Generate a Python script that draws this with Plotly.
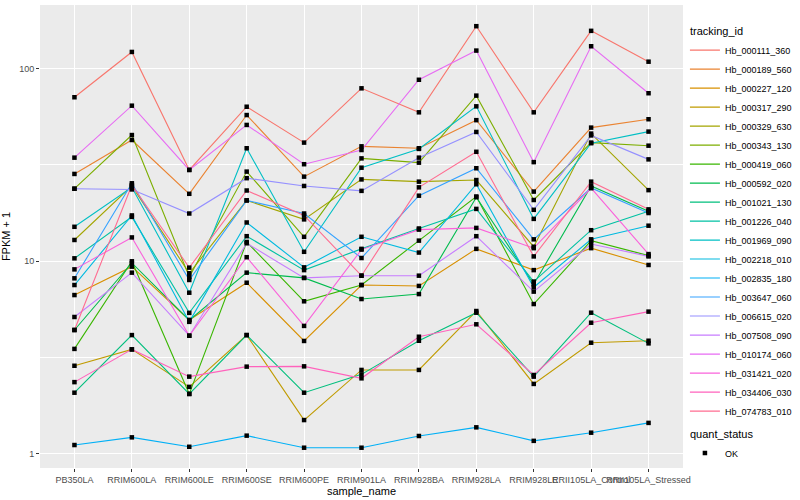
import plotly.graph_objects as go

samples = ["PB350LA", "RRIM600LA", "RRIM600LE", "RRIM600SE", "RRIM600PE", "RRIM901LA",
           "RRIM928BA", "RRIM928LA", "RRIM928LE", "RRII105LA_Control", "RRII105LA_Stressed"]

tracking_ids = ["Hb_000111_360", "Hb_000189_560", "Hb_000227_120", "Hb_000317_290", "Hb_000329_630",
                "Hb_000343_130", "Hb_000419_060", "Hb_000592_020", "Hb_001021_130", "Hb_001226_040",
                "Hb_001969_090", "Hb_002218_010", "Hb_002835_180", "Hb_003647_060", "Hb_006615_020",
                "Hb_007508_090", "Hb_010174_060", "Hb_031421_020", "Hb_034406_030", "Hb_074783_010"]

colors = ["#F8766D", "#EA8331", "#D89000", "#C09B00", "#A3A500", "#7CAE00", "#39B600", "#00BB4E",
          "#00BF7D", "#00C1A3", "#00BFC4", "#00BAE0", "#00B0F6", "#35A2FF", "#9590FF", "#C77CFF",
          "#E76BF3", "#FA62DB", "#FF62BC", "#FF6C91"]

# FPKM + 1 values per gene, in sample order
hb_000111_360 = [71, 122, 29.8, 63.4, 41.3, 79, 59.3, 166, 59.3, 157, 108.6]
hb_000189_560 = [28.4, 42.6, 22.4, 57.4, 27.5, 39.5, 38.6, 54, 23, 49.4, 54.6]
hb_000227_120 = [6.68, 9.38, 4.96, 7.74, 3.86, 7.53, 7.45, 11.6, 9.0, 11.7, 9.57]
hb_000317_290 = [2.87, 3.49, 2.23, 4.14, 1.50, 2.73, 2.73, 5.52, 2.31, 3.78, 3.87]
hb_000329_630 = [12.9, 24.6, 8.67, 20.7, 16.5, 26.6, 25.9, 26.4, 11.9, 46, 23.4]
hb_000343_130 = [23.8, 45.2, 8.3, 29.2, 13.4, 34.2, 32.5, 72.4, 20.8, 41.3, 39.8]
hb_000419_060 = [3.51, 10.0, 2.05, 12.6, 6.2, 7.53, 12.8, 21.7, 6.0, 12.8, 10.7]
hb_000592_020 = [4.4, 9.8, 4.95, 8.73, 8.2, 6.37, 6.76, 21.5, 7.6, 24.6, 18.2]
hb_001021_130 = [2.08, 4.14, 2.05, 4.14, 2.08, 2.59, 3.87, 5.41, 2.52, 5.41, 3.75]
hb_001226_040 = [10.36, 17.0, 5.4, 13.5, 9.0, 11.6, 14.8, 18.7, 7.85, 14.5, 18.2]
hb_001969_090 = [15.1, 24.2, 6.87, 38.6, 11.2, 30.6, 38.3, 63.7, 16.6, 41, 47.1]
hb_002218_010 = [7.53, 17.3, 4.85, 15.9, 9.3, 13.4, 11.1, 25.1, 7.33, 13.0, 15.3]
hb_002835_180 = [1.113, 1.22, 1.09, 1.245, 1.078, 1.078, 1.24, 1.375, 1.17, 1.29, 1.45]
hb_003647_060 = [8.16, 25.4, 8.0, 20.7, 17.7, 10.4, 21.9, 30.4, 13.0, 24.0, 17.8]
hb_006615_020 = [23.8, 23.6, 17.7, 27.0, 24.6, 23.2, 34.5, 46.9, 18.5, 45, 33.8]
hb_007508_090 = [5.14, 8.73, 4.11, 12.4, 8.2, 8.42, 8.42, 13.5, 6.96, 12.3, 10.6]
hb_010174_060 = [34.5, 64.2, 29.8, 51, 31.9, 37.8, 87.5, 124, 32.7, 130.6, 74.5]
hb_031421_020 = [9.08, 13.3, 4.11, 10.5, 4.62, 11.5, 14.6, 14.9, 11.7, 24.0, 10.9]
hb_034406_030 = [2.36, 3.49, 2.52, 2.84, 2.85, 2.47, 4.06, 4.71, 2.57, 4.8, 5.48]
hb_074783_010 = [4.4, 24.9, 9.27, 23.3, 17.3, 8.42, 24.2, 37, 10.6, 25.9, 18.6]

series = [hb_000111_360, hb_000189_560, hb_000227_120, hb_000317_290, hb_000329_630,
          hb_000343_130, hb_000419_060, hb_000592_020, hb_001021_130, hb_001226_040,
          hb_001969_090, hb_002218_010, hb_002835_180, hb_003647_060, hb_006615_020,
          hb_007508_090, hb_010174_060, hb_031421_020, hb_034406_030, hb_074783_010]

FONT = "Liberation Sans, Arial, sans-serif"

fig = go.Figure()
for i, (name, col, vals) in enumerate(zip(tracking_ids, colors, series)):
    fig.add_trace(go.Scatter(
        x=samples, y=vals, mode="lines", name=name,
        line=dict(color=col, width=1.1),
        legendgroup="tracking_id",
        legendgrouptitle=dict(text="tracking_id", font=dict(size=11, color="black")) if i == 0 else None,
        hoverinfo="skip",
    ))

all_x = [s for _ in series for s in samples]
all_y = [v for vals in series for v in vals]
fig.add_trace(go.Scatter(
    x=all_x, y=all_y, mode="markers", name="OK",
    marker=dict(symbol="square", size=4.5, color="black"),
    legendgroup="quant_status",
    legendgrouptitle=dict(text="quant_status", font=dict(size=11, color="black")),
    hoverinfo="skip",
))

fig.update_layout(
    template="none",
    width=800, height=500,
    margin=dict(l=40, r=117, t=5, b=32, autoexpand=False),
    paper_bgcolor="white",
    plot_bgcolor="#EBEBEB",
    font=dict(family=FONT, size=9, color="black"),
    showlegend=True,
    legend=dict(
        x=1.003, xanchor="left", y=0.975, yanchor="top",
        font=dict(size=9, color="black"),
        tracegroupgap=4, itemwidth=30, bgcolor="rgba(0,0,0,0)",
    ),
    xaxis=dict(
        type="category", categoryorder="array", categoryarray=samples,
        range=[-0.6, 10.6], showgrid=True, gridcolor="white", gridwidth=1.1,
        ticks="outside", ticklen=3, tickcolor="#333333", tickwidth=1, tickangle=0,
        tickfont=dict(size=9, color="#4D4D4D", family=FONT),
        showline=False, zeroline=False, automargin=False,
        title=dict(text="sample_name", font=dict(size=11, color="black", family=FONT), standoff=2),
    ),
    yaxis=dict(
        type="log", range=[-0.0727, 2.330],
        tickvals=[1, 10, 100], ticktext=["1", "10", "100"],
        showgrid=True, gridcolor="white", gridwidth=1.1,
        minor=dict(tickvals=[10 ** 0.5, 10 ** 1.5], showgrid=True, gridcolor="white", gridwidth=0.5, ticks=""),
        ticks="outside", ticklen=3, tickcolor="#333333", tickwidth=1,
        tickfont=dict(size=9, color="#4D4D4D", family=FONT),
        showline=False, zeroline=False, automargin=False,
        title=dict(text="FPKM + 1", font=dict(size=11, color="black", family=FONT), standoff=6),
    ),
)

fig.write_html("out.html",
               config={"displayModeBar": False},
               post_script="document.body.style.margin='0';document.body.style.overflow='hidden';")
